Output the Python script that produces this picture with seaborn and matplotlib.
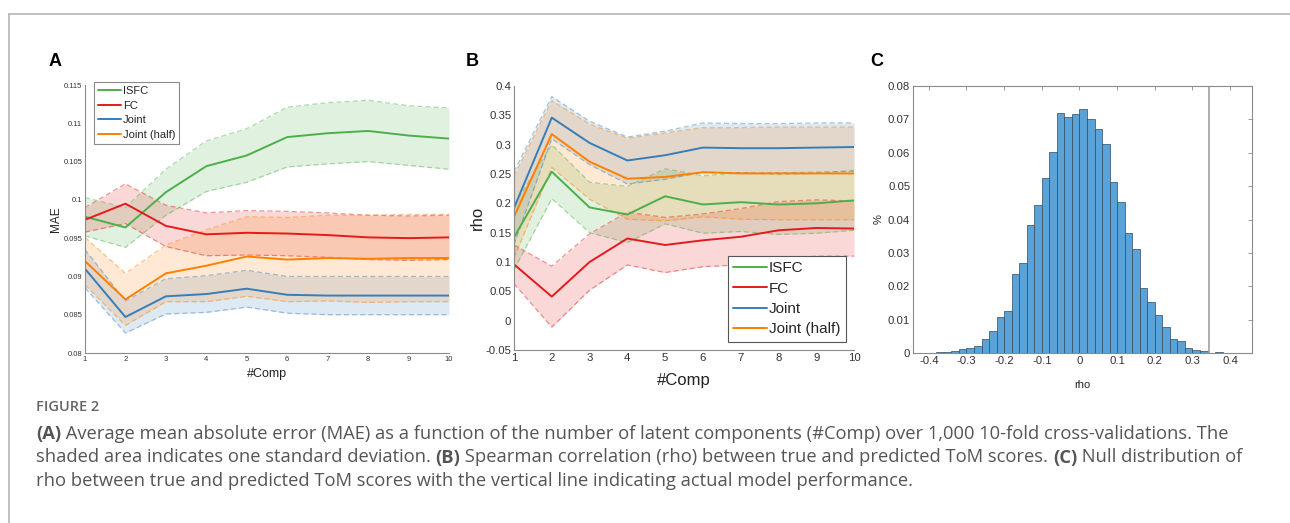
import numpy as np
import pandas as pd
import matplotlib
matplotlib.use("Agg")
import matplotlib.pyplot as plt
import seaborn as sns
from matplotlib.transforms import IdentityTransform
from matplotlib.lines import Line2D
from matplotlib.ticker import FuncFormatter

# ---------------- data ----------------
n_comp = [1, 2, 3, 4, 5, 6, 7, 8, 9, 10]
series_names = ["ISFC", "FC", "Joint", "Joint (half)"]

# Panel A: MAE mean and SD
isfc_mae = [0.0978, 0.0964, 0.1010, 0.1044, 0.1058, 0.1082, 0.1087, 0.1090, 0.1084, 0.1080]
isfc_mae_sd = [0.0025, 0.0026, 0.0030, 0.0033, 0.0035, 0.0039, 0.0040, 0.0040, 0.0039, 0.0040]
fc_mae = [0.0974, 0.0995, 0.0966, 0.0955, 0.0957, 0.0956, 0.0954, 0.0951, 0.0950, 0.0951]
fc_mae_sd = [0.0016, 0.0026, 0.0027, 0.0028, 0.0029, 0.0029, 0.0029, 0.0029, 0.0029, 0.0029]
joint_mae = [0.0910, 0.0847, 0.0874, 0.0877, 0.0884, 0.0876, 0.0875, 0.0875, 0.0875, 0.0875]
joint_mae_sd = [0.0025, 0.0021, 0.0023, 0.0024, 0.0024, 0.0024, 0.0025, 0.0025, 0.0025, 0.0025]
half_mae = [0.0920, 0.0870, 0.0904, 0.0914, 0.0926, 0.0922, 0.0924, 0.0923, 0.0924, 0.0924]
half_mae_sd = [0.0031, 0.0034, 0.0037, 0.0047, 0.0052, 0.0055, 0.0056, 0.0057, 0.0057, 0.0057]

# Panel B: rho mean and SD
isfc_rho = [0.142, 0.254, 0.193, 0.181, 0.212, 0.198, 0.202, 0.198, 0.200, 0.205]
isfc_rho_sd = [0.055, 0.046, 0.043, 0.048, 0.047, 0.049, 0.050, 0.051, 0.051, 0.051]
fc_rho = [0.096, 0.041, 0.100, 0.140, 0.129, 0.137, 0.143, 0.154, 0.158, 0.157]
fc_rho_sd = [0.033, 0.052, 0.048, 0.045, 0.047, 0.045, 0.048, 0.049, 0.048, 0.047]
joint_rho = [0.192, 0.346, 0.303, 0.273, 0.282, 0.295, 0.294, 0.294, 0.295, 0.296]
joint_rho_sd = [0.062, 0.036, 0.037, 0.040, 0.041, 0.042, 0.042, 0.042, 0.042, 0.041]
half_rho = [0.177, 0.318, 0.271, 0.242, 0.245, 0.253, 0.251, 0.251, 0.251, 0.251]
half_rho_sd = [0.070, 0.057, 0.064, 0.069, 0.075, 0.076, 0.078, 0.079, 0.079, 0.079]

# Panel C: null distribution histogram (fraction per bin)
hist_bin_start = -0.40
hist_bin_width = 0.02
hist_heights = [0.0001, 0.0002, 0.0003, 0.0005, 0.0011, 0.0014, 0.0021, 0.0041, 0.0067, 0.0107,
                0.0127, 0.0236, 0.0269, 0.0384, 0.0443, 0.0523, 0.0601, 0.0719, 0.0708, 0.0715,
                0.0732, 0.0700, 0.0672, 0.0627, 0.0511, 0.0451, 0.0361, 0.0311, 0.0196, 0.0154,
                0.0115, 0.0077, 0.0042, 0.0037, 0.0015, 0.0010, 0.0005, 0.0001, 0.0002, 0.0001]
actual_rho = 0.343

colors = {"ISFC": "#4daf4a", "FC": "#e41a1c", "Joint": "#377eb8", "Joint (half)": "#ff7f00"}

# ---------------- style ----------------
sns.set_style("white")
plt.rcParams["font.family"] = ["Liberation Sans", "DejaVu Sans"]
plt.rcParams["axes.unicode_minus"] = False

W, H = 1290, 523
fig = plt.figure(figsize=(W / 100, H / 100), dpi=100)


def ax_px(l, t, r, b):
    return fig.add_axes([l / W, 1 - b / H, (r - l) / W, (b - t) / H])


def fmt(nd):
    return FuncFormatter(lambda v, p: f"{round(v, nd) + 0.0:g}")


def long_df(mean_lists, sd_lists):
    rows = []
    for name, m, s in zip(series_names, mean_lists, sd_lists):
        for x, mv, sv in zip(n_comp, m, s):
            rows.append({"comp": x, "series": name, "mean": mv, "lo": mv - sv, "hi": mv + sv})
    return pd.DataFrame(rows)


def band_panel(ax, df):
    for name in series_names:
        d = df[df.series == name]
        c = colors[name]
        ax.fill_between(d["comp"], d["lo"], d["hi"], color=c, alpha=0.17, linewidth=0)
        sns.lineplot(data=d, x="comp", y="lo", ax=ax, color=c, alpha=0.45, lw=0.9,
                     linestyle=(0, (4, 2.5)), legend=False)
        sns.lineplot(data=d, x="comp", y="hi", ax=ax, color=c, alpha=0.45, lw=0.9,
                     linestyle=(0, (4, 2.5)), legend=False)
    sns.lineplot(data=df, x="comp", y="mean", hue="series", hue_order=series_names,
                 palette=colors, ax=ax, lw=1.4)


def style_axes(ax, tick_size, box=False):
    for side in ["left", "bottom", "top", "right"]:
        ax.spines[side].set_color("#8a8a8a")
        ax.spines[side].set_linewidth(0.8)
    if not box:
        ax.spines["top"].set_visible(False)
        ax.spines["right"].set_visible(False)
    ax.tick_params(direction="in", length=3, width=0.6, color="#8a8a8a",
                   labelsize=tick_size, labelcolor="#333333", pad=2,
                   top=box, right=box)


# ---------------- Panel A ----------------
axA = ax_px(85, 85, 449, 353)
dfA = long_df([isfc_mae, fc_mae, joint_mae, half_mae],
              [isfc_mae_sd, fc_mae_sd, joint_mae_sd, half_mae_sd])
band_panel(axA, dfA)
axA.set_xlim(1, 10)
axA.set_ylim(0.08, 0.115)
axA.set_xticks(n_comp)
axA.set_yticks(np.arange(0.08, 0.1151, 0.005))
axA.yaxis.set_major_formatter(fmt(4))
style_axes(axA, 5.5)
axA.set_xlabel("#Comp", fontsize=9, color="#222222", labelpad=4)
axA.set_ylabel("MAE", fontsize=8.5, color="#222222", labelpad=1)
legA = axA.legend(loc="upper left", bbox_to_anchor=(0.025, 1.011), borderaxespad=0,
                  fontsize=8, handlelength=2.1, handletextpad=0.15, labelspacing=0.42,
                  frameon=True, fancybox=False, edgecolor="#8a8a8a", framealpha=1,
                  borderpad=0.35)
legA.get_frame().set_linewidth(0.8)

# ---------------- Panel B ----------------
axB = ax_px(514, 86, 854, 350)
dfB = long_df([isfc_rho, fc_rho, joint_rho, half_rho],
              [isfc_rho_sd, fc_rho_sd, joint_rho_sd, half_rho_sd])
band_panel(axB, dfB)
axB.set_xlim(1, 10)
axB.set_ylim(-0.05, 0.4)
axB.set_xticks(n_comp)
axB.set_yticks(np.arange(-0.05, 0.401, 0.05))
axB.yaxis.set_major_formatter(fmt(3))
style_axes(axB, 8.2)
axB.set_xlabel("#Comp", fontsize=12, color="#222222", labelpad=7)
axB.set_ylabel("rho", fontsize=12, color="#222222", labelpad=0)
legB = axB.legend(loc="lower right", bbox_to_anchor=(0.976, 0.031), borderaxespad=0,
                  fontsize=11, handlelength=2.2, handletextpad=0.15, labelspacing=0.42,
                  frameon=True, fancybox=False, edgecolor="#555555", framealpha=1,
                  borderpad=0.35)
legB.get_frame().set_linewidth(0.8)

# ---------------- Panel C ----------------
axC = ax_px(913, 86, 1252, 353)
hist_centers = [hist_bin_start + hist_bin_width * (i + 0.5) for i in range(len(hist_heights))]
hist_edges = [hist_bin_start + hist_bin_width * i for i in range(len(hist_heights) + 1)]
dfC = pd.DataFrame({"rho": hist_centers, "frac": hist_heights})
sns.histplot(data=dfC, x="rho", weights="frac", bins=hist_edges, ax=axC,
             color="#5aa3d8", alpha=1, edgecolor="#2f4a60", linewidth=0.5)
axC.axvline(actual_rho, color="#a0a0a0", lw=1.2)
axC.set_xlim(-0.442, 0.458)
axC.set_ylim(0, 0.08)
axC.set_xticks(np.round(np.arange(-0.4, 0.401, 0.1), 1))
axC.set_yticks(np.round(np.arange(0, 0.0801, 0.01), 2))
axC.xaxis.set_major_formatter(fmt(2))
axC.yaxis.set_major_formatter(fmt(3))
style_axes(axC, 8.2, box=True)
axC.set_xlabel("rho", fontsize=8, color="#222222", labelpad=10)
axC.set_ylabel("%", fontsize=8, color="#222222", labelpad=3)

# panel letters
for letter, x in [("A", 49), ("B", 466), ("C", 870)]:
    fig.text(x, H - 66, letter, transform=IdentityTransform(), fontsize=13,
             fontweight="bold", color="black", ha="left", va="baseline")

# frame lines
fig.add_artist(Line2D([9 / W, 1], [1 - 13.5 / H, 1 - 13.5 / H], transform=fig.transFigure,
                      color="#b5b5b5", lw=1.2))
fig.add_artist(Line2D([9 / W, 9 / W], [0, 1 - 13.5 / H], transform=fig.transFigure,
                      color="#b5b5b5", lw=1.2))

# ---------------- caption ----------------
cap_font = ["Open Sans", "DejaVu Sans"]
cap_color = "#555555"
cap_lines = [
    [("(A)", "bold"), (" Average mean absolute error (MAE) as a function of the number of latent components (#Comp) over 1,000 10-fold cross-validations. The", "normal")],
    [("shaded area indicates one standard deviation. ", "normal"), ("(B)", "bold"),
     (" Spearman correlation (rho) between true and predicted ToM scores. ", "normal"),
     ("(C)", "bold"), (" Null distribution of", "normal")],
    [("rho between true and predicted ToM scores with the vertical line indicating actual model performance.", "normal")],
]
renderer = fig.canvas.get_renderer()


def draw_line(pieces, x0, ybase, size):
    x = x0
    arts = []
    for txt, wt in pieces:
        t = fig.text(x, ybase, txt, transform=IdentityTransform(), fontsize=size,
                     fontweight=wt, family=cap_font, color=cap_color, va="baseline", ha="left")
        x += t.get_window_extent(renderer).width
        arts.append(t)
    return x - x0, arts


w, arts = draw_line(cap_lines[0], 36, 0, 11)
for a in arts:
    a.remove()
cap_size = 11 * (1232 - 36) / w

fig.text(36, H - 411, "FIGURE 2", transform=IdentityTransform(), fontsize=10.5,
         fontweight="semibold", family=cap_font, color="#666666", va="baseline", ha="left")
for i, line in enumerate(cap_lines):
    draw_line(line, 36, H - (439 + 23.5 * i), cap_size)

fig.savefig("out.png", dpi=100)
